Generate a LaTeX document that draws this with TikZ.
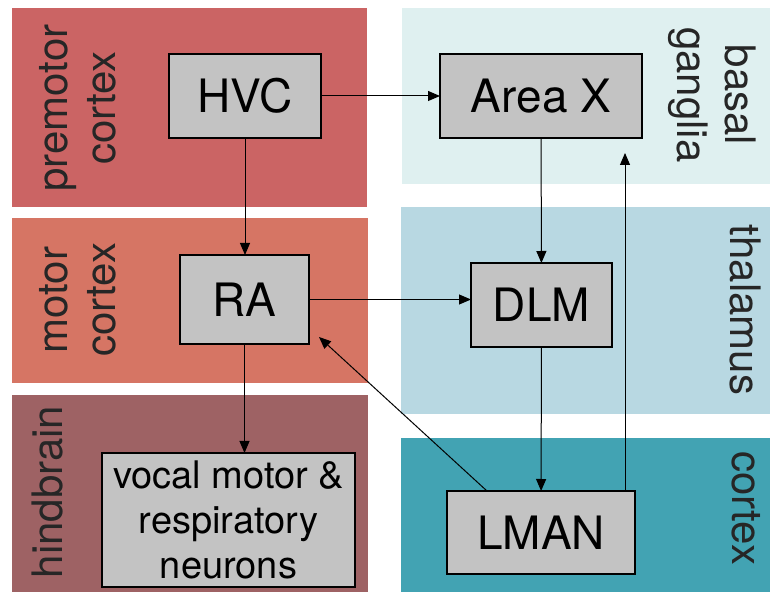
\documentclass[tikz,border=0pt]{standalone}
\usepackage{fontspec}
\setmainfont{TeX Gyre Heros}
\usepackage{xcolor}
\usetikzlibrary{arrows.meta}

\definecolor{premotorred}{HTML}{CB6464}
\definecolor{motorred}{HTML}{D67564}
\definecolor{hindbrainred}{HTML}{9E6264}
\definecolor{basalblue}{HTML}{DFF0F0}
\definecolor{thalamusblue}{HTML}{B8D8E2}
\definecolor{cortexblue}{HTML}{42A3B3}
\definecolor{nucleusgray}{HTML}{C3C3C3}

\begin{document}
\begin{tikzpicture}[
    x=0.5pt, y=-0.5pt,
    nucleus/.style={rectangle, draw, fill=nucleusgray, line width=0.6pt, inner sep=0pt, outer sep=0pt, align=center, font=\fontsize{23}{27}\selectfont},
    region/.style={inner sep=0pt, align=center, text=black!85, font=\fontsize{21}{24}\selectfont},
    arrow/.style={-{Triangle[length=6pt,width=5pt]}, line width=0.5pt}
]
\useasboundingbox (0,0) rectangle (770,592);

% brain areas
\fill[premotorred] (12,8) rectangle (367,207);
\fill[motorred] (12,218) rectangle (368,383);
\fill[hindbrainred] (12,395) rectangle (368,592);
\fill[basalblue] (402,8) rectangle (770,184);
\fill[thalamusblue] (401,207) rectangle (770,414);
\fill[cortexblue] (401,438) rectangle (770,592);

\node[region, rotate=90] (premotorlbl) at (78,108) {premotor\\cortex};
\node[region, rotate=90] (motorlbl) at (78,300) {motor\\cortex};
\node[region, rotate=90] (hindlbl) at (48,492) {hindbrain};
\node[region, rotate=-90] (basallbl) at (712,95) {basal\\ganglia};
\node[region, rotate=-90] (thallbl) at (745,310) {thalamus};
\node[region, rotate=-90] (cortexlbl) at (746,508) {cortex};

% nuclei
\node[nucleus, minimum width=76pt, minimum height=42pt] (hvc) at (245,96) {HVC};
\node[nucleus, minimum width=101pt, minimum height=42pt] (areax) at (541,96) {Area X};
\node[nucleus, minimum width=64.5pt, minimum height=44.5pt] (ra) at (244.5,299.5) {RA};
\node[nucleus, minimum width=70.5pt, minimum height=42pt] (dlm) at (541.5,305) {DLM};
\node[nucleus, minimum width=94pt, minimum height=41.5pt] (lman) at (541,532.5) {LMAN};
\node[nucleus, minimum width=126.5pt, minimum height=67pt, font=\fontsize{19}{22.5}\selectfont] (vocal) at (228.5,520) {vocal motor \&\\respiratory\\neurons};

\coordinate (axin) at (625,153);
\coordinate (rain) at (319,337);

\draw[arrow] (hvc) -- (areax);
\draw[arrow] (hvc.south) -- (hvc.south |- ra.north);
\draw[arrow] (areax) -- (dlm);
\draw[arrow] (ra.east) -- (ra.east -| dlm.west);
\draw[arrow] (ra.south) -- (ra.south |- vocal.north);
\draw[arrow] (dlm) -- (lman);
\draw[arrow] (lman.north -| axin) -- (axin);
\draw[arrow] ([xshift=20pt]lman.north west) -- (rain);
\end{tikzpicture}
\end{document}
